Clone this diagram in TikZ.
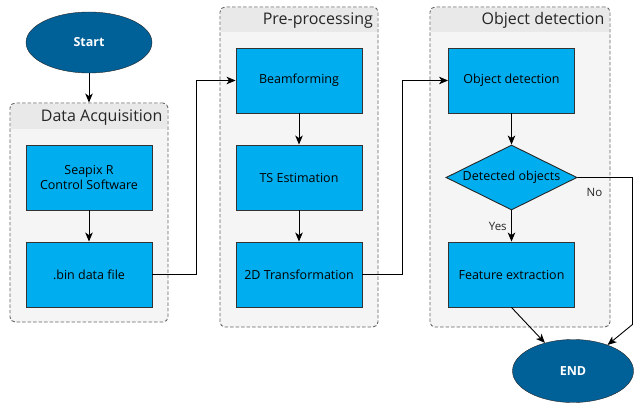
\documentclass[tikz,border=0pt]{standalone}
\usepackage{fontspec}
\setmainfont{Open Sans}
\usetikzlibrary{arrows.meta,shapes.geometric}
\definecolor{startblue}{RGB}{0,97,153}
\definecolor{boxblue}{RGB}{0,174,239}
\definecolor{bodygray}{RGB}{245,245,245}
\definecolor{headgray}{RGB}{233,233,233}
\definecolor{edgegray}{RGB}{100,100,100}
\begin{document}
\begin{tikzpicture}[x=1pt,y=-1pt,
    terminal/.style={ellipse, draw=black!85, fill=startblue, text=white,
        font=\bfseries\fontsize{12.5}{14}\selectfont, inner sep=0pt},
    procbox/.style={rectangle, draw=black!80, fill=boxblue, line width=0.9pt,
        minimum width=126pt, minimum height=65pt, inner sep=0pt,
        align=center, font=\fontsize{12.5}{15.5}\selectfont},
    decision/.style={diamond, aspect=2, draw=black!85, fill=boxblue, line width=0.9pt,
        minimum width=131pt, minimum height=65pt, inner sep=0pt,
        font=\fontsize{12.5}{15.5}\selectfont},
    group/.style={rectangle, draw=edgegray, fill=bodygray, dash pattern=on 3.5pt off 2pt,
        line width=0.9pt, rounded corners=5pt, inner sep=0pt},
    grouptitle/.style={anchor=east, text=black!85, font=\fontsize{16}{19}\selectfont},
    arr/.style={-{Stealth[length=9pt,width=7.5pt,inset=2.5pt]}, line width=0.9pt},
    flowlabel/.style={font=\fontsize{11.5}{14}\selectfont, text=black!85}]
    \useasboundingbox (0,0) rectangle (634,403);

    % groups
    \node[group, minimum width=158pt, minimum height=219pt] (acq) at (89,212.5) {};
    \fill[headgray] (11,129) {[rounded corners=4pt] -- (11,104) -- (167,104)} -- (167,129) -- cycle;
    \node[grouptitle] (acqtitle) at (166,117.5) {Data Acquisition};

    \node[group, minimum width=158pt, minimum height=320pt] (pre) at (299,167) {};
    \fill[headgray] (221,32) {[rounded corners=4pt] -- (221,8) -- (377,8)} -- (377,32) -- cycle;
    \node[grouptitle] (pretitle) at (376.5,20.5) {Pre-processing};

    \node[group, minimum width=180pt, minimum height=320pt] (det) at (520,167) {};
    \fill[headgray] (431,32) {[rounded corners=4pt] -- (431,8) -- (609,8)} -- (609,32) -- cycle;
    \node[grouptitle] (dettitle) at (608,20.5) {Object detection};

    % terminals
    \node[terminal, minimum width=126pt, minimum height=61pt] (start) at (89,42.5) {Start};
    \node[terminal, minimum width=121pt, minimum height=63pt] (finish) at (573,371) {END};

    % steps
    \node[procbox] (seapix) at (89,177.5) {Seapix R\\Control Software};
    \node[procbox] (binfile) at (89,274.5) {.bin data file};
    \node[procbox] (beam) at (299,80.5) {Beamforming};
    \node[procbox] (tsest) at (299,177.5) {TS Estimation};
    \node[procbox] (trans) at (299,274.5) {2D Transformation};
    \node[procbox] (objdet) at (511.5,80.5) {Object detection};
    \node[decision] (found) at (511.5,177.5) {Detected objects};
    \node[procbox] (feature) at (511.5,274.5) {Feature extraction};

    % connectors
    \draw[arr] (start) -- (acq.north);
    \draw[arr] (seapix) -- (binfile);
    \draw[arr] (binfile.east) -- ++(43.5,0) |- (beam.west);
    \draw[arr] (beam) -- (tsest);
    \draw[arr] (tsest) -- (trans);
    \draw[arr] (trans.east) -- ++(40,0) |- (objdet.west);
    \draw[arr] (objdet) -- (found);
    \draw[arr] (found.south) -- (feature.north) node[flowlabel, pos=0.5, left=1pt] {Yes};
    \draw[arr] (found.east) -- ++(55,0) node[flowlabel, pos=0, xshift=17pt, yshift=-14.5pt] {No}
        -- ++(0,147) -- (finish.37);
    \draw[arr] (feature.south) -- (finish.135);
\end{tikzpicture}
\end{document}
